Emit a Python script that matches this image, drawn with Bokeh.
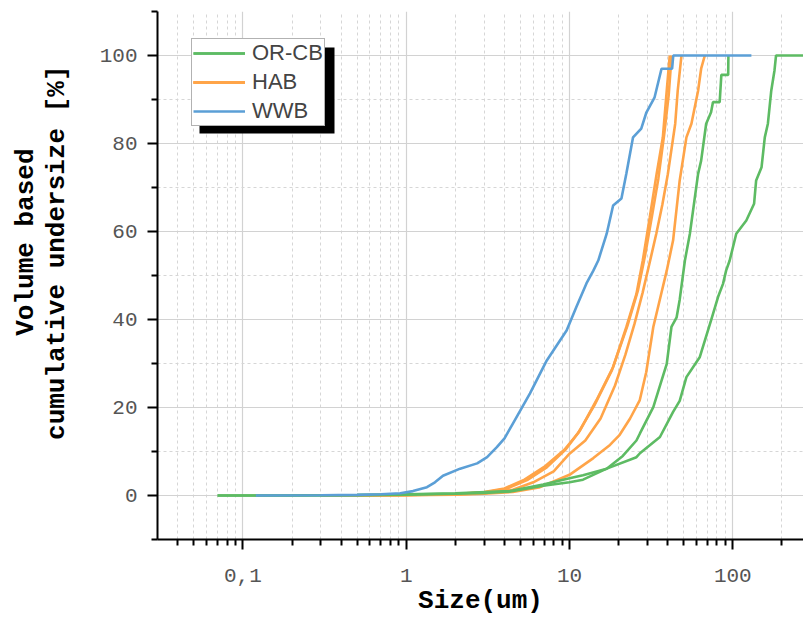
from bokeh.plotting import figure
from bokeh.models import FixedTicker, Legend, LegendItem, BoxAnnotation, Range1d, Title
from bokeh.embed import file_html
from bokeh.resources import INLINE

# ---- tick definitions ----
x_ticks = [0.1, 1, 10, 100]
x_tick_labels = ["0,1", "1", "10", "100"]
x_minor = [0.04, 0.05, 0.06, 0.07, 0.08, 0.09,
           0.2, 0.3, 0.4, 0.5, 0.6, 0.7, 0.8, 0.9,
           2, 3, 4, 5, 6, 7, 8, 9,
           20, 30, 40, 50, 60, 70, 80, 90, 200]
y_ticks = [0, 20, 40, 60, 80, 100]
y_minor = [-10, 10, 30, 50, 70, 90, 110]
y_grid_minor = [10, 30, 50, 70, 90]

x_title = "Size(um)"
y_title_1 = "Volume based"
y_title_2 = "cumulative undersize [%]"

# ---- OR-CB (green) ----
orcb1_x = [0.07, 0.2, 0.5, 1.0, 2.0, 3.0, 4.33, 6.9, 10, 12.1, 16.9, 21.2, 25.7, 27, 32.6, 39.4, 42.1, 45.3,
           47.3, 50.9, 54.6, 61.3, 64, 68.7, 73.6, 75.6, 83.1, 85.1, 93.7, 94.0]
orcb1_y = [0, 0.02, 0.08, 0.2, 0.4, 0.6, 0.9, 2.2, 3.0, 3.6, 6.1, 9.0, 12.5, 14.1, 20.1, 29.9, 38.3, 40.5,
           44.5, 53.4, 59.5, 73.1, 76.1, 84.5, 87.1, 89.4, 89.4, 95.6, 95.6, 100]
orcb2_x = [0.07, 0.2, 0.5, 1.0, 2.0, 4.33, 6.9, 10, 12.1, 16.9, 25.7, 27, 35.8, 43.1, 47.3, 52, 62.7, 73.6,
           81.2, 87.1, 91, 95.7, 105, 121, 135, 139, 150, 157, 164, 172, 180, 184, 400]
orcb2_y = [0, 0.03, 0.1, 0.25, 0.5, 1.0, 2.5, 3.9, 4.6, 6.1, 8.7, 9.6, 13.3, 19.0, 21.5, 26.9, 31.4, 39.8,
           45.1, 48.1, 51.1, 53.4, 59.5, 62.5, 66.3, 71.6, 74.6, 81.4, 84.5, 92, 96.6, 100, 100]

# ---- HAB (orange) ----
hab1_x = [0.3, 1, 2, 3, 4.1, 5.5, 7.26, 9.5, 11.6, 14.6, 18.5, 22.3, 25.7, 28.1, 31, 34.2, 37.3, 39.4, 41.1]
hab1_y = [0, 0.1, 0.3, 0.7, 1.5, 3.5, 6.4, 10.5, 14.8, 21.6, 29.2, 38.3, 45.8, 53.4, 63.2, 73.2, 81.4, 92, 100]
hab2_x = [0.3, 1, 2, 3, 4.0, 5.3, 7.0, 9.3, 11.3, 14.2, 18.2, 22.6, 26.2, 29, 32, 35, 38, 40.5, 42.2]
hab2_y = [0, 0.1, 0.35, 0.8, 1.6, 3.6, 6.5, 10.4, 14.2, 20.5, 28.5, 38.5, 46.5, 54.5, 63.5, 72, 82, 91, 100]
hab3_x = [0.3, 1, 2, 3, 4.5, 6, 8, 10, 12.5, 15.5, 19, 22, 25, 28, 31, 34, 37, 40, 44.4, 46, 48.5]
hab3_y = [0, 0.1, 0.25, 0.5, 1.3, 3.0, 5.5, 9.5, 12.5, 17.5, 25, 32, 39, 46, 53, 59.5, 66, 73, 84.5, 92, 100]
hab4_x = [0.3, 1, 2, 3, 4.5, 6.5, 10, 14, 17.7, 20.3, 23.5, 26.9, 29.5, 32.6, 36, 39.4, 43.1, 47.3, 52,
          55.8, 61.3, 64, 67.4]
hab4_y = [0, 0.05, 0.2, 0.4, 0.8, 1.8, 4.7, 8.5, 11.5, 13.8, 17.5, 21.6, 28, 38.3, 45, 51.1, 58, 71.6, 81.4,
          84.5, 92, 97, 100]

# ---- WWB (blue) ----
wwb_x = [0.12, 0.3, 0.5, 0.7, 0.92, 1.1, 1.34, 1.5, 1.68, 2.14, 2.72, 3.13, 3.59, 4.0, 4.51, 5.73, 7.26, 9.6,
         11.0, 12.7, 14.0, 15.0, 16.9, 18.5, 20.8, 22.3, 24.5, 27.5, 29.6, 33.2, 36.6, 42.5, 43.2, 130]
wwb_y = [0, 0.05, 0.15, 0.3, 0.5, 1.0, 1.9, 3.0, 4.5, 6.1, 7.3, 8.7, 11, 13, 16.4, 23.2, 30.7, 37.5,
         42.8, 48.2, 51.1, 53.4, 59.5, 65.9, 67.5, 73.2, 81.4, 83.4, 87.1, 90.5, 97, 97, 100, 100]

GREEN = "#5DBB63"
ORANGE = "#FFA448"
BLUE = "#5B9FD6"
LW = 2.6

p = figure(width=803, height=617, x_axis_type="log",
           x_range=Range1d(0.03, 271), y_range=Range1d(-10, 110),
           output_backend="svg", toolbar_location=None,
           min_border_left=157, min_border_right=0, min_border_top=11, min_border_bottom=78)
p.outline_line_color = None
p.background_fill_color = "white"
p.border_fill_color = "white"

xt = FixedTicker(ticks=x_ticks, minor_ticks=x_minor)
yt = FixedTicker(ticks=y_ticks, minor_ticks=y_minor)
ygt = FixedTicker(ticks=y_ticks, minor_ticks=y_grid_minor)
p.xaxis.ticker = xt
p.yaxis.ticker = yt
p.xgrid.ticker = xt
p.ygrid.ticker = ygt
p.xaxis.major_label_overrides = {t: l for t, l in zip(x_ticks, x_tick_labels)}

for ax in (p.xaxis[0], p.yaxis[0]):
    ax.axis_line_width = 2
    ax.axis_line_color = "black"
    ax.major_tick_line_width = 2
    ax.minor_tick_line_width = 2
    ax.major_tick_line_color = "black"
    ax.minor_tick_line_color = "black"
    ax.major_tick_in = 0
    ax.major_tick_out = 10
    ax.minor_tick_in = 0
    ax.minor_tick_out = 6
    ax.major_label_text_font = "Liberation Mono"
    ax.major_label_text_font_size = "21px"
    ax.major_label_text_color = "#555555"

p.xaxis.major_label_standoff = 19
p.yaxis.major_label_standoff = 10

for g in (p.xgrid[0], p.ygrid[0]):
    g.grid_line_color = "#d2d2d2"
    g.grid_line_width = 1.2
    g.minor_grid_line_color = "#d6d6d6"
    g.minor_grid_line_width = 1
    g.minor_grid_line_dash = "3 3"

hab_r = [p.line(x, y, line_color=ORANGE, line_width=LW)
         for x, y in ((hab1_x, hab1_y), (hab2_x, hab2_y), (hab3_x, hab3_y), (hab4_x, hab4_y))]
orcb_r = [p.line(x, y, line_color=GREEN, line_width=LW)
          for x, y in ((orcb1_x, orcb1_y), (orcb2_x, orcb2_y))]
wwb_r = [p.line(wwb_x, wwb_y, line_color=BLUE, line_width=LW)]

title_style = dict(text_font="Liberation Mono", text_font_style="bold", text_font_size="26px",
                   text_color="black")
p.add_layout(Title(text=x_title, align="center", standoff=1, vertical_align="middle", **title_style), "below")
p.add_layout(Title(text=y_title_2, align="right", offset=54, standoff=48, vertical_align="middle",
                   **title_style), "left")
p.add_layout(Title(text=y_title_1, align="right", offset=137, standoff=-49, vertical_align="bottom",
                   **title_style), "left")

shadow = BoxAnnotation(left=199, right=334, top=47, bottom=133,
                       left_units="canvas", right_units="canvas",
                       top_units="canvas", bottom_units="canvas",
                       fill_color="black", fill_alpha=1, line_color=None)
p.add_layout(shadow)

legend = Legend(items=[LegendItem(label="OR-CB", renderers=orcb_r),
                       LegendItem(label="HAB", renderers=hab_r),
                       LegendItem(label="WWB", renderers=wwb_r)],
                location=(34, 413), glyph_width=52, glyph_height=20,
                label_text_font="Liberation Sans", label_text_font_size="22px",
                label_standoff=7, padding=1, spacing=3, margin=0,
                border_line_color="#666666", border_line_width=1.5,
                background_fill_color="white", background_fill_alpha=1)
p.add_layout(legend)

open("out.html", "w").write(file_html(p, INLINE))
